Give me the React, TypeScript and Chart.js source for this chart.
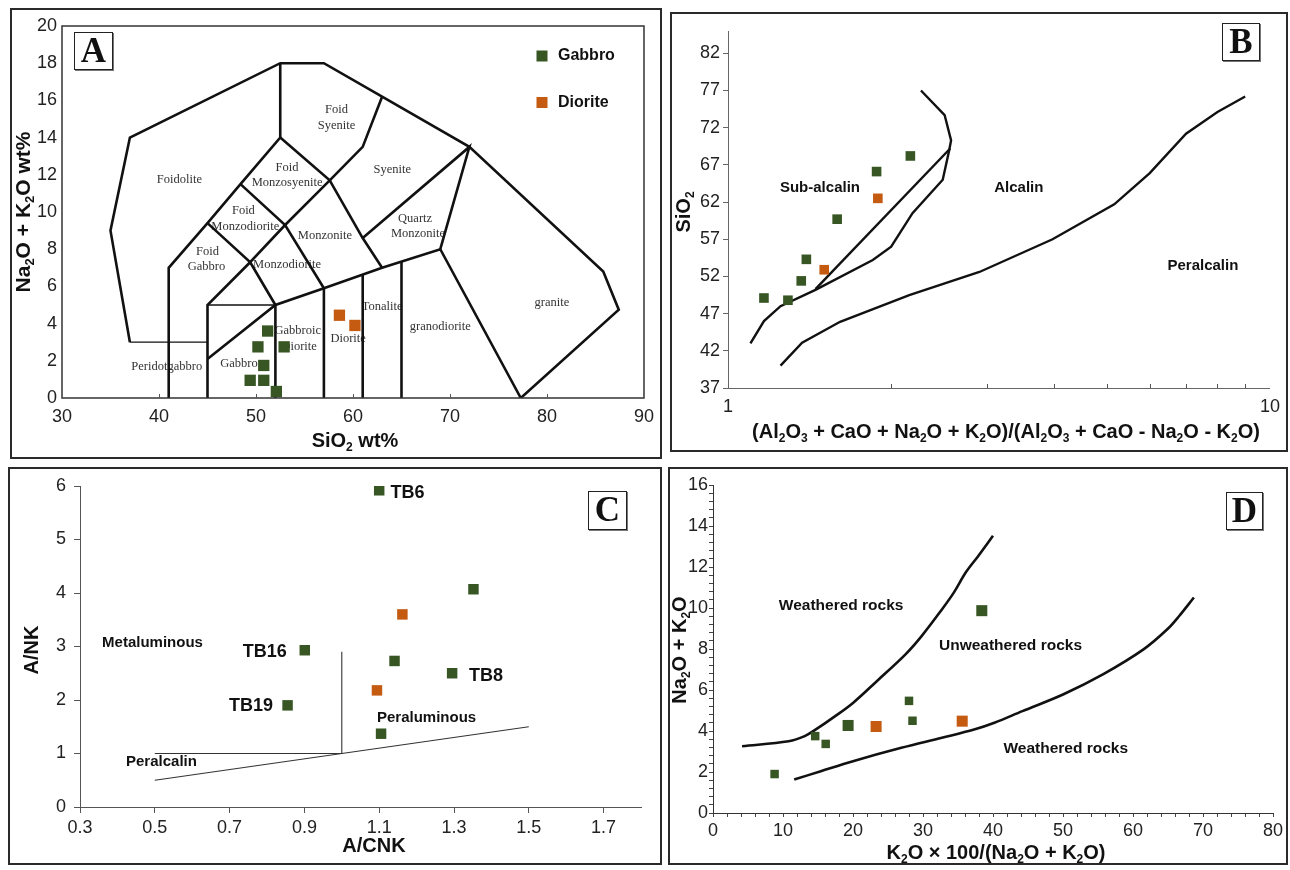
import React, { useEffect, useRef } from 'react';
import { Chart, registerables } from 'chart.js';

Chart.register(...registerables);

const SANS = '"Liberation Sans", Arial, Helvetica, sans-serif';
const SERIF = '"Liberation Serif", "Times New Roman", Times, serif';
const GREEN = '#375623';
const ORANGE = '#c55a11';
const INK = '#111111';

// ================= Panel A : TAS (SiO2 vs Na2O+K2O) =================
const tasGabbro = [[51.2, 3.6], [50.2, 2.75], [52.9, 2.75], [50.8, 1.75], [49.4, 0.95], [50.8, 0.95], [52.1, 0.35]];
const tasDiorite = [[58.6, 4.45], [60.2, 3.9]];
const tasTicksX = [30, 40, 50, 60, 70, 80, 90];
const tasTicksY = [0, 2, 4, 6, 8, 10, 12, 14, 16, 18, 20];
const tasInnerTicksX = [40, 50, 60, 70, 80];
const tasBoundaries = [
  [[37, 3], [35, 9], [37, 14], [52.5, 18], [57, 18], [63, 16.2], [72, 13.5], [85.8, 6.8], [87.4, 4.75], [77.3, 0]],
  [[41, 0], [41, 7], [45, 9.4], [48.4, 11.5], [52.5, 14], [52.5, 18]],
  [[45, 9.4], [49.4, 7.3], [53, 9.3], [57.6, 11.7], [52.5, 14]],
  [[48.4, 11.5], [53, 9.3], [57, 5.9]],
  [[45, 0], [45, 5], [49.4, 7.3], [52, 5]],
  [[45, 2.1], [52, 5], [57, 5.9], [63, 7], [69, 8], [77.3, 0]],
  [[52, 0], [52, 5]],
  [[57, 0], [57, 5.9]],
  [[61, 0], [61, 6.63]],
  [[65, 0], [65, 7.33]],
  [[57.6, 11.7], [61, 8.6], [63, 7]],
  [[57.6, 11.7], [61, 13.5], [63, 16.2]],
  [[61, 8.6], [72, 13.5], [69, 8]],
];
const tasThinBoundaries = [
  [[37, 3], [45, 3]],
  [[45, 5], [52, 5]],
];
const tasFieldNames: [string, number, number][] = [
  ['Foidolite', 42.1, 11.76],
  ['Foid', 58.3, 15.5], ['Syenite', 58.3, 14.65],
  ['Syenite', 64.05, 12.3],
  ['Foid', 53.2, 12.4], ['Monzosyenite', 53.2, 11.55],
  ['Foid', 48.7, 10.07], ['Monzodiorite', 48.9, 9.2],
  ['Monzonite', 57.1, 8.73],
  ['Quartz', 66.4, 9.66], ['Monzonite', 66.7, 8.85],
  ['Foid', 45.0, 7.84], ['Gabbro', 44.9, 7.04],
  ['Monzodiorite', 53.2, 7.18],
  ['Tonalite', 63.0, 4.9],
  ['Gabbroic', 54.3, 3.6], ['Diorite', 54.45, 2.75],
  ['Diorite', 59.5, 3.2],
  ['granodiorite', 69.0, 3.84],
  ['granite', 80.5, 5.1],
  ['Peridotgabbro', 40.8, 1.7],
  ['Gabbro', 48.25, 1.82],
];

// ================= Panel B : alkalinity ratio vs SiO2 =================
const alkGabbro = [[1.165, 49.1], [1.29, 48.8], [1.365, 51.4], [1.395, 54.3], [1.59, 59.7], [1.88, 66.1], [2.17, 68.2]];
const alkDiorite = [[1.505, 52.9], [1.89, 62.5]];
const alkCurveSub = [[1.1, 43], [1.165, 46], [1.25, 48], [1.45, 50.2], [1.85, 54.2], [2.0, 56], [2.19, 60.5], [2.49, 65], [2.56, 69], [2.58, 70.3], [2.51, 73.7], [2.27, 77]];
const alkLineSub = [[1.45, 50.3], [2.57, 69.2]];
const alkCurvePer = [[1.25, 40], [1.37, 43.1], [1.61, 45.9], [2.16, 49.5], [2.91, 52.6], [3.97, 57.0], [5.16, 61.7], [6.0, 65.9], [7.0, 71.2], [8.0, 74.1], [9.0, 76.2]];
const alkTicksY = [37, 42, 47, 52, 57, 62, 67, 72, 77, 82];
const alkTicksX = [1, 2, 3, 4, 5, 6, 7, 8, 9, 10];
const alkLabelledX = [1, 10];
const alkInnerTicksX = [2, 3, 4, 5, 6, 7, 8, 9];
const alkFieldNames: [string, number, number][] = [
  ['Sub-alcalin', 1.478, 63.9],
  ['Alcalin', 3.44, 63.9],
  ['Peralcalin', 7.52, 53.4],
];

// ================= Panel C : Shand (A/CNK vs A/NK) =================
const shGabbro = [[1.1, 5.92], [1.352, 4.07], [0.901, 2.93], [1.141, 2.73], [1.295, 2.5], [0.855, 1.9], [1.105, 1.37]];
const shDiorite = [[1.162, 3.6], [1.094, 2.18]];
const shLines = [
  [[0.5, 1], [1.0, 1], [1.0, 2.9]],
  [[0.5, 0.5], [1.5, 1.5]],
];
const shTicksX = [0.3, 0.5, 0.7, 0.9, 1.1, 1.3, 1.5, 1.7];
const shTicksY = [0, 1, 2, 3, 4, 5, 6];
const shSampleTags: [string, number, number, string][] = [
  ['TB6', 1.13, 5.87, 'left'],
  ['TB16', 0.853, 2.89, 'right'],
  ['TB8', 1.34, 2.44, 'left'],
  ['TB19', 0.816, 1.88, 'right'],
];
const shFieldNames: [string, number, number][] = [
  ['Metaluminous', 0.359, 3.07],
  ['Peraluminous', 1.094, 1.67],
  ['Peralcalin', 0.423, 0.84],
];

// ================= Panel D : weathering =================
const wxGabbro = [[8.8, 1.9], [14.6, 3.75], [16.1, 3.37], [19.3, 4.27], [28.0, 5.47], [28.5, 4.5], [38.4, 9.87]];
const wxGabbroSize = [6, 6, 6, 7.8, 6, 6, 7.8];
const wxDiorite = [[23.3, 4.22], [35.6, 4.48]];
const wxUpper = [[4.15, 3.26], [10.8, 3.5], [13.1, 3.75], [14.8, 4.1], [17.1, 4.64], [20.0, 5.37], [23.4, 6.43], [27.5, 7.74], [29.8, 8.63], [32.7, 9.93], [34.4, 10.75], [36.1, 11.73], [37.9, 12.54], [40.0, 13.52]];
const wxLower = [[11.6, 1.63], [15.4, 2.04], [20, 2.53], [26.9, 3.18], [32.7, 3.67], [37.3, 4.07], [40.2, 4.4], [44.2, 4.97], [50, 5.78], [55.7, 6.76], [61.5, 7.98], [64.9, 8.96], [66.6, 9.61], [68.7, 10.51]];
const wxLabelledX = [0, 10, 20, 30, 40, 50, 60, 70, 80];
const wxLabelledY = [0, 2, 4, 6, 8, 10, 12, 14, 16];
const wxFieldNames: [string, number, number][] = [
  ['Weathered rocks', 18.3, 10.13],
  ['Unweathered rocks', 42.5, 8.14],
  ['Weathered rocks', 50.4, 3.13],
];

// ================= layout =================
type Rect = { x: number; y: number; w: number; h: number };
type Plot = { l: number; t: number; r: number; b: number };

const A_RECT: Rect = { x: 10, y: 8, w: 652, h: 451 };
const A_PLOT: Plot = { l: 62, t: 26, r: 647, b: 398 };
const B_RECT: Rect = { x: 670, y: 12, w: 618, h: 440 };
const B_PLOT: Plot = { l: 728, t: 31, r: 1270, b: 388 };
const C_RECT: Rect = { x: 8, y: 467, w: 654, h: 398 };
const C_PLOT: Plot = { l: 80, t: 486, r: 641, b: 807 };
const D_RECT: Rect = { x: 668, y: 467, w: 620, h: 398 };
const D_PLOT: Plot = { l: 713, t: 485, r: 1273, b: 813 };

function frameFor(c: Rect, p: Plot) {
  return {
    padding: { left: 0, top: p.t - c.y, right: c.x + c.w - p.r, bottom: 0 },
    yWidth: p.l - c.x,
    xHeight: c.y + c.h - p.b,
  };
}

const xy = (arr: number[][]) => arr.map(([x, y]) => ({ x, y }));

function drawRich(ctx: CanvasRenderingContext2D, text: string, x: number, y: number, size: number, rotate: boolean) {
  const segs: { t: string; sub: boolean; w?: number }[] = [];
  let buf = '';
  for (let i = 0; i < text.length; i++) {
    if (text[i] === '_') {
      if (buf) segs.push({ t: buf, sub: false });
      buf = '';
      segs.push({ t: text[i + 1], sub: true });
      i++;
    } else buf += text[i];
  }
  if (buf) segs.push({ t: buf, sub: false });
  const main = `bold ${size}px ${SANS}`;
  const sub = `bold ${Math.round(size * 0.62)}px ${SANS}`;
  let total = 0;
  for (const s of segs) {
    ctx.font = s.sub ? sub : main;
    s.w = ctx.measureText(s.t).width;
    total += s.w;
  }
  ctx.save();
  ctx.translate(x, y);
  if (rotate) ctx.rotate(-Math.PI / 2);
  ctx.fillStyle = INK;
  ctx.textBaseline = 'middle';
  ctx.textAlign = 'left';
  let cx = -total / 2;
  for (const s of segs) {
    ctx.font = s.sub ? sub : main;
    ctx.fillText(s.t, cx, s.sub ? size * 0.32 : 0);
    cx += s.w || 0;
  }
  ctx.restore();
}

type Overlay = {
  rect: Rect;
  frame?: boolean;
  innerTicksX?: number[];
  labels?: { text: string; x: number; y: number; font: string; align?: CanvasTextAlign; color?: string }[];
  titles: { text: string; x: number; y: number; size: number; rotate?: boolean }[];
  legend?: { label: string; color: string; x: number; y: number }[];
};

function overlay(o: Overlay) {
  return {
    id: 'overlay',
    beforeDatasetsDraw(chart: any) {
      const ctx = chart.ctx;
      const xs = chart.scales.x;
      const ys = chart.scales.y;
      ctx.save();
      for (const l of o.labels || []) {
        ctx.font = l.font;
        ctx.fillStyle = l.color || INK;
        ctx.textAlign = l.align || 'center';
        ctx.textBaseline = 'middle';
        ctx.fillText(l.text, xs.getPixelForValue(l.x), ys.getPixelForValue(l.y));
      }
      ctx.restore();
    },
    afterDraw(chart: any) {
      const ctx = chart.ctx;
      const a = chart.chartArea;
      ctx.save();
      if (o.frame) {
        ctx.strokeStyle = '#333';
        ctx.lineWidth = 1.5;
        ctx.strokeRect(a.left, a.top, a.right - a.left, a.bottom - a.top);
      }
      if (o.innerTicksX) {
        ctx.strokeStyle = '#555';
        ctx.lineWidth = 1;
        for (const v of o.innerTicksX) {
          const px = Math.round(chart.scales.x.getPixelForValue(v)) + 0.5;
          ctx.beginPath();
          ctx.moveTo(px, a.bottom);
          ctx.lineTo(px, a.bottom - 4);
          ctx.stroke();
        }
      }
      for (const t of o.titles) {
        drawRich(ctx, t.text, t.x - o.rect.x, t.y - o.rect.y, t.size, !!t.rotate);
      }
      if (o.legend) {
        const ds = chart.data.datasets;
        o.legend.forEach((item, i) => {
          ctx.fillStyle = item.color;
          ctx.fillRect(item.x - o.rect.x - 5.5, item.y - o.rect.y - 5.5, 11, 11);
          ctx.fillStyle = INK;
          ctx.font = `bold 16px ${SANS}`;
          ctx.textAlign = 'left';
          ctx.textBaseline = 'middle';
          ctx.fillText(ds[i].label, item.x - o.rect.x + 16, item.y - o.rect.y);
        });
      }
      ctx.restore();
    },
  };
}

function markerSet(label: string, data: number[][], color: string, radius: number | number[]) {
  return {
    label,
    data: xy(data),
    showLine: false,
    pointStyle: 'rect',
    pointRadius: radius,
    pointBackgroundColor: color,
    pointBorderColor: color,
    pointBorderWidth: 0,
    backgroundColor: color,
    borderColor: color,
    order: 0,
  };
}

function lineSet(data: number[][], width: number, color = INK, tension = 0) {
  return {
    label: '',
    data: xy(data),
    showLine: true,
    borderColor: color,
    borderWidth: width,
    pointRadius: 0,
    fill: false,
    tension,
    order: 5,
  };
}

function fixedTicks(values: number[]) {
  return (s: any) => {
    s.ticks = values.map((v) => ({ value: v }));
  };
}

function baseOptions(f: any, scales: any) {
  return {
    responsive: false,
    animation: false,
    devicePixelRatio: 1,
    events: [],
    layout: { padding: f.padding },
    plugins: { legend: { display: false }, tooltip: { enabled: false } },
    scales,
  };
}

const tickFont = (size: number) => ({ family: SANS, size });

function buildA() {
  const f = frameFor(A_RECT, A_PLOT);
  return {
    type: 'scatter',
    data: {
      datasets: [
        markerSet('Gabbro', tasGabbro, GREEN, 8),
        markerSet('Diorite', tasDiorite, ORANGE, 8),
        ...tasBoundaries.map((p) => lineSet(p, 2.6)),
        ...tasThinBoundaries.map((p) => lineSet(p, 1.3)),
      ],
    },
    options: baseOptions(f, {
      x: {
        type: 'linear', min: 30, max: 90,
        afterBuildTicks: fixedTicks(tasTicksX),
        afterFit: (s: any) => { s.height = f.xHeight; },
        grid: { display: false, drawTicks: false },
        border: { display: false },
        ticks: { font: tickFont(18), color: '#222', padding: 8, autoSkip: false, maxRotation: 0 },
      },
      y: {
        type: 'linear', min: 0, max: 20,
        afterBuildTicks: fixedTicks(tasTicksY),
        afterFit: (s: any) => { s.width = f.yWidth; },
        grid: { display: false, drawTicks: false },
        border: { display: false },
        ticks: { font: tickFont(18), color: '#222', padding: 5, autoSkip: false },
      },
    }),
    plugins: [overlay({
      rect: A_RECT,
      frame: true,
      innerTicksX: tasInnerTicksX,
      labels: tasFieldNames.map(([text, x, y]) => ({ text, x, y, font: `12.5px ${SERIF}`, color: '#333' })),
      titles: [
        { text: 'Na_2O + K_2O wt%', x: 24, y: 212, size: 21, rotate: true },
        { text: 'SiO_2 wt%', x: 355, y: 441, size: 20 },
      ],
      legend: [
        { label: 'Gabbro', color: GREEN, x: 542, y: 56 },
        { label: 'Diorite', color: ORANGE, x: 542, y: 102.5 },
      ],
    })],
  };
}

function buildB() {
  const f = frameFor(B_RECT, B_PLOT);
  return {
    type: 'scatter',
    data: {
      datasets: [
        markerSet('Gabbro', alkGabbro, GREEN, 6.8),
        markerSet('Diorite', alkDiorite, ORANGE, 6.8),
        lineSet(alkCurveSub, 2.4),
        lineSet(alkLineSub, 2.4),
        lineSet(alkCurvePer, 2.4),
      ],
    },
    options: baseOptions(f, {
      x: {
        type: 'logarithmic', min: 1, max: 10,
        afterBuildTicks: fixedTicks(alkTicksX),
        afterFit: (s: any) => { s.height = f.xHeight; },
        grid: { display: false, drawTicks: false },
        border: { display: true, color: '#666', width: 1 },
        ticks: {
          font: tickFont(18), color: '#222', padding: 8, autoSkip: false, maxRotation: 0,
          callback: (v: any) => (alkLabelledX.includes(Number(v)) ? String(v) : ''),
        },
      },
      y: {
        type: 'linear', min: 37, max: 85,
        afterBuildTicks: fixedTicks(alkTicksY),
        afterFit: (s: any) => { s.width = f.yWidth; },
        grid: { display: true, drawOnChartArea: false, drawTicks: true, tickLength: 5, color: '#666' },
        border: { display: true, color: '#666', width: 1 },
        ticks: { font: tickFont(18), color: '#222', padding: 3, autoSkip: false },
      },
    }),
    plugins: [overlay({
      rect: B_RECT,
      innerTicksX: alkInnerTicksX,
      labels: alkFieldNames.map(([text, x, y]) => ({ text, x, y, font: `bold 15px ${SANS}` })),
      titles: [
        { text: 'SiO_2', x: 684, y: 212, size: 20, rotate: true },
        { text: '(Al_2O_3 + CaO + Na_2O + K_2O)/(Al_2O_3 + CaO - Na_2O - K_2O)', x: 1006, y: 432, size: 20 },
      ],
    })],
  };
}

function buildC() {
  const f = frameFor(C_RECT, C_PLOT);
  return {
    type: 'scatter',
    data: {
      datasets: [
        markerSet('Gabbro', shGabbro, GREEN, 7.4),
        markerSet('Diorite', shDiorite, ORANGE, 7.4),
        ...shLines.map((p) => lineSet(p, 1.1, '#333')),
      ],
    },
    options: baseOptions(f, {
      x: {
        type: 'linear', min: 0.3, max: 1.8,
        afterBuildTicks: fixedTicks(shTicksX),
        afterFit: (s: any) => { s.height = f.xHeight; },
        grid: { display: true, drawOnChartArea: false, drawTicks: true, tickLength: 6, color: '#555' },
        border: { display: true, color: '#555', width: 1 },
        ticks: {
          font: tickFont(18), color: '#222', padding: 4, autoSkip: false, maxRotation: 0,
          callback: (v: any) => Number(v).toFixed(1),
        },
      },
      y: {
        type: 'linear', min: 0, max: 6,
        afterBuildTicks: fixedTicks(shTicksY),
        afterFit: (s: any) => { s.width = f.yWidth; },
        grid: { display: true, drawOnChartArea: false, drawTicks: true, tickLength: 6, color: '#555' },
        border: { display: true, color: '#555', width: 1 },
        ticks: { font: tickFont(18), color: '#222', padding: 8, autoSkip: false },
      },
    }),
    plugins: [overlay({
      rect: C_RECT,
      labels: [
        ...shSampleTags.map(([text, x, y, align]) => ({ text, x, y, font: `bold 18px ${SANS}`, align: align as CanvasTextAlign })),
        ...shFieldNames.map(([text, x, y]) => ({ text, x, y, font: `bold 15px ${SANS}`, align: 'left' as CanvasTextAlign })),
      ],
      titles: [
        { text: 'A/NK', x: 32, y: 650, size: 20, rotate: true },
        { text: 'A/CNK', x: 374, y: 846, size: 20 },
      ],
    })],
  };
}

function buildD() {
  const f = frameFor(D_RECT, D_PLOT);
  return {
    type: 'scatter',
    data: {
      datasets: [
        markerSet('Gabbro', wxGabbro, GREEN, wxGabbroSize),
        markerSet('Diorite', wxDiorite, ORANGE, 7.8),
        lineSet(wxUpper, 2.6, INK, 0.35),
        lineSet(wxLower, 2.6, INK, 0.35),
      ],
    },
    options: baseOptions(f, {
      x: {
        type: 'linear', min: 0, max: 80,
        afterBuildTicks: (s: any) => {
          const t = [];
          for (let v = 0; v <= 80; v += 2) t.push({ value: v });
          s.ticks = t;
        },
        afterFit: (s: any) => { s.height = f.xHeight; },
        grid: { display: true, drawOnChartArea: false, drawTicks: true, tickLength: 4, color: '#444' },
        border: { display: true, color: '#333', width: 1 },
        ticks: {
          font: tickFont(18), color: '#222', padding: 3, autoSkip: false, maxRotation: 0,
          callback: (v: any) => (wxLabelledX.includes(Number(v)) ? String(v) : ''),
        },
      },
      y: {
        type: 'linear', min: 0, max: 16,
        afterBuildTicks: (s: any) => {
          const t = [];
          for (let k = 0; k <= 40; k++) t.push({ value: Math.round(k * 0.4 * 10) / 10 });
          s.ticks = t;
        },
        afterFit: (s: any) => { s.width = f.yWidth; },
        grid: { display: true, drawOnChartArea: false, drawTicks: true, tickLength: 4, color: '#444' },
        border: { display: true, color: '#333', width: 1 },
        ticks: {
          font: tickFont(18), color: '#222', padding: 1, autoSkip: false,
          callback: (v: any) => (wxLabelledY.includes(Number(v)) ? String(v) : ''),
        },
      },
    }),
    plugins: [overlay({
      rect: D_RECT,
      labels: wxFieldNames.map(([text, x, y]) => ({ text, x, y, font: `bold 15.5px ${SANS}` })),
      titles: [
        { text: 'Na_2O + K_2O', x: 680, y: 650, size: 20, rotate: true },
        { text: 'K_2O × 100/(Na_2O + K_2O)', x: 996, y: 853, size: 20 },
      ],
    })],
  };
}

function ChartCanvas({ rect, build }: { rect: Rect; build: () => any }) {
  const ref = useRef<HTMLCanvasElement | null>(null);
  useEffect(() => {
    if (!ref.current) return;
    const chart = new Chart(ref.current, build());
    return () => chart.destroy();
  }, []);
  return (
    <canvas
      ref={ref}
      width={rect.w}
      height={rect.h}
      style={{ position: 'absolute', left: rect.x, top: rect.y, width: rect.w, height: rect.h }}
    />
  );
}

const panelBoxes: Rect[] = [A_RECT, B_RECT, C_RECT, D_RECT];
const letterBoxes: { t: string; r: Rect }[] = [
  { t: 'A', r: { x: 74, y: 32, w: 39, h: 38 } },
  { t: 'B', r: { x: 1222, y: 23, w: 38, h: 38 } },
  { t: 'C', r: { x: 588, y: 491, w: 39, h: 39 } },
  { t: 'D', r: { x: 1226, y: 492, w: 37, h: 38 } },
];

export default function App() {
  return (
    <div style={{ position: 'absolute', left: 0, top: 0, width: 1290, height: 870, background: '#fff', overflow: 'hidden' }}>
      <ChartCanvas rect={A_RECT} build={buildA} />
      <ChartCanvas rect={B_RECT} build={buildB} />
      <ChartCanvas rect={C_RECT} build={buildC} />
      <ChartCanvas rect={D_RECT} build={buildD} />
      {panelBoxes.map((b, i) => (
        <div
          key={'box' + i}
          style={{
            position: 'absolute', left: b.x, top: b.y, width: b.w, height: b.h,
            border: '2px solid #2a2a2a', boxSizing: 'border-box', pointerEvents: 'none',
          }}
        />
      ))}
      {letterBoxes.map((l) => (
        <div
          key={l.t}
          style={{
            position: 'absolute', left: l.r.x, top: l.r.y, width: l.r.w, height: l.r.h,
            border: '1.5px solid #222', boxSizing: 'border-box', background: '#fff',
            boxShadow: '1px 1px 0 #777',
            fontFamily: SERIF, fontWeight: 'bold', fontSize: 35, lineHeight: `${l.r.h - 3}px`,
            textAlign: 'center', color: '#111',
          }}
        >
          {l.t}
        </div>
      ))}
    </div>
  );
}
